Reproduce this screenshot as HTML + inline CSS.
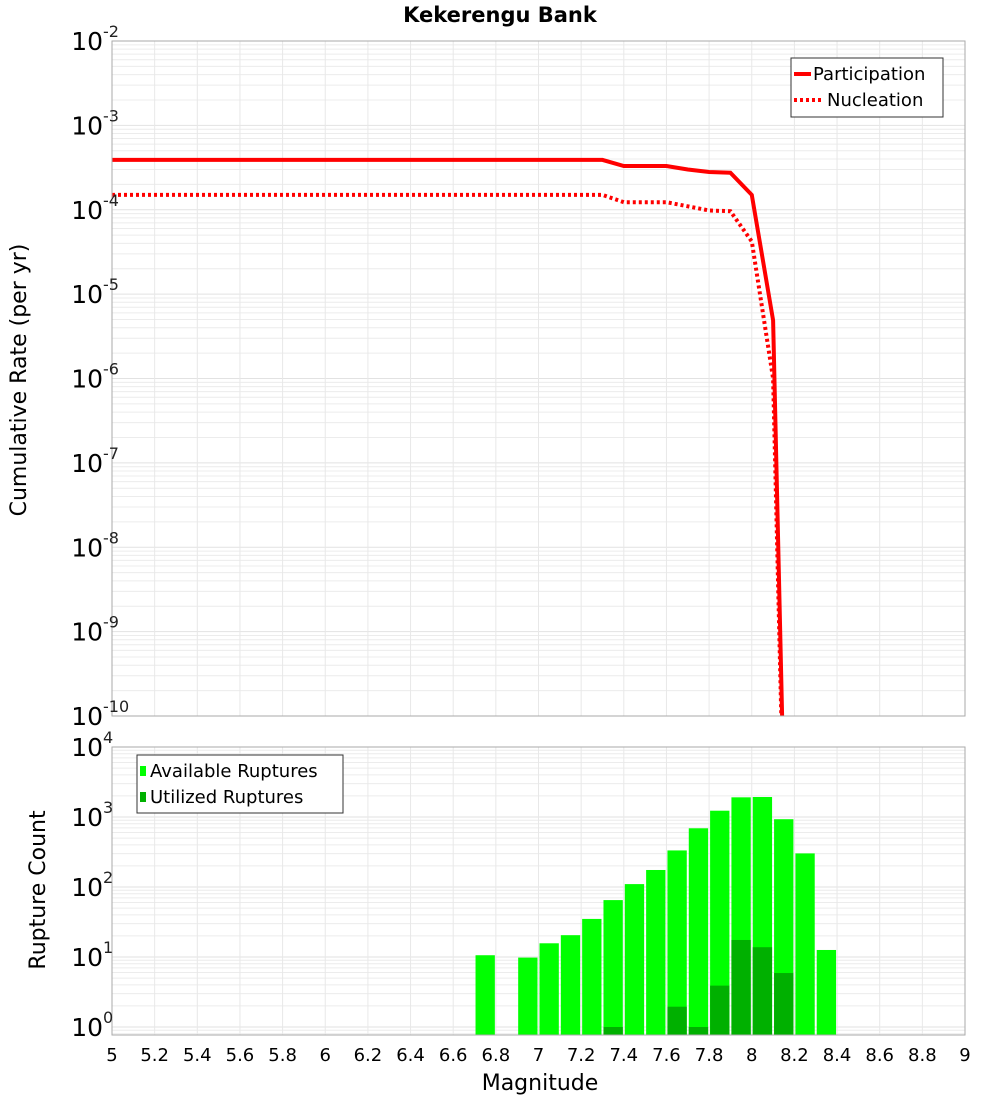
<!DOCTYPE html>
<html><head><meta charset="utf-8"><style>
html,body{margin:0;padding:0;background:#fff;width:1000px;height:1100px;overflow:hidden}
svg{display:block;font-family:"DejaVu Sans","Liberation Sans",sans-serif}
</style></head><body>
<svg id="c" width="1000" height="1100" viewBox="0 0 1000 1100" xmlns="http://www.w3.org/2000/svg">
<text x="500" y="22" text-anchor="middle" font-size="21" font-weight="bold">Kekerengu Bank</text>
<text transform="translate(26,380) rotate(-90)" text-anchor="middle" font-size="22">Cumulative Rate (per yr)</text>
<text transform="translate(45,890) rotate(-90)" text-anchor="middle" font-size="22">Rupture Count</text>
<text x="540" y="1090" text-anchor="middle" font-size="22">Magnitude</text>
<g id="g"></g>
</svg>
<script>
const partMags=[5,7.3,7.4,7.6,7.7,7.8,7.9,8.0,8.1,8.2];
const partVals=[3.9e-4,3.9e-4,3.3e-4,3.3e-4,3.0e-4,2.8e-4,2.75e-4,1.5e-4,4.9e-6,4e-17];
const nuclMags=[5,7.3,7.4,7.6,7.7,7.8,7.9,8.0,8.1,8.2];
const nuclVals=[1.5e-4,1.5e-4,1.23e-4,1.23e-4,1.1e-4,9.8e-5,9.6e-5,4.2e-5,1e-6,4e-17];
const binMags=[6.75,6.95,7.05,7.15,7.25,7.35,7.45,7.55,7.65,7.75,7.85,7.95,8.05,8.15,8.25,8.35];
const availCounts=[10.6,9.8,15.7,20.5,35,65,110,175,333,690,1230,1910,1930,930,302,12.6];
const usedCounts=[0,0,0,0,0,1,0,0,1.95,1,3.9,17.5,13.8,5.9,0,0];
const xTicks=[5,5.2,5.4,5.6,5.8,6,6.2,6.4,6.6,6.8,7,7.2,7.4,7.6,7.8,8,8.2,8.4,8.6,8.8,9];
const topExps=[-2,-3,-4,-5,-6,-7,-8,-9,-10];
const botExps=[4,3,2,1,0];

const NS="http://www.w3.org/2000/svg";
const g=document.getElementById('g');
function el(t,a,p){const e=document.createElementNS(NS,t);for(const k in a)e.setAttribute(k,a[k]);(p||g).appendChild(e);return e;}
const X0=112,X1=965;
const x=m=>X0+(m-5)*(X1-X0)/4;
const T0=41,T1=716;
const yT=v=>T0+(-2-Math.log10(v))*(T1-T0)/8;
const B0=747,B1=1035;
const yB=v=>1027-70*Math.log10(v);

function grid(y0,y1,yf,lo,hi,name){
  const gg=el('g',{});
  
  
  for(let e=lo;e<hi;e++)for(let k=1;k<10;k++){
    const yy=yf(k*Math.pow(10,e));
    if(yy<y0-0.5||yy>y1+0.5)continue;
    el('line',{x1:X0,x2:X1,y1:yy,y2:yy,stroke:k==1?'#e2e2e2':'#ececec','stroke-width':1},gg);
  }
  xTicks.forEach(t=>el('line',{x1:x(t),x2:x(t),y1:y0,y2:y1,stroke:'#e8e8e8','stroke-width':1},gg));
}
grid(T0,T1,yT,-10,-2,'top-grid');
grid(B0,B1,yB,-1,4,'bottom-grid');

const clip=el('clipPath',{id:'cp'});el('rect',{x:X0,y:T0,width:X1-X0,height:T1-T0},clip);
function line(ms,vs,dash,name){
  const p=el('path',{d:ms.map((m,i)=>(i?'L':'M')+x(m).toFixed(1)+','+yT(vs[i]).toFixed(1)).join(''),fill:'none',stroke:'#ff0000','stroke-width':4,'clip-path':'url(#cp)'});
  if(dash)p.setAttribute('stroke-dasharray',dash);
  
  
}
line(nuclMags,nuclVals,'3,3','nucleation-line');
line(partMags,partVals,null,'participation-line');

const bw=(X1-X0)/4*0.1;
binMags.forEach((m,i)=>{
  if(availCounts[i]>0){
    const r=el('rect',{x:x(m)-bw/2+1,y:yB(availCounts[i]),width:bw-2,height:B1-yB(availCounts[i]),fill:'#00ff00'});
    
    
  }
  if(usedCounts[i]>0){
    const r=el('rect',{x:x(m)-bw/2+1,y:yB(usedCounts[i]),width:bw-2,height:B1-yB(usedCounts[i]),fill:'#00b000'});
    
    
  }
});

el('rect',{x:X0,y:T0,width:X1-X0,height:T1-T0,fill:'none',stroke:'#aaa'});
el('rect',{x:X0,y:B0,width:X1-X0,height:B1-B0,fill:'none',stroke:'#aaa'});

function ylab(yy,e){
  const t=el('text',{x:103,y:yy+9,'text-anchor':'end','font-size':25});
  t.textContent='10';
  
  
  const s=el('text',{x:103,y:yy-4,'font-size':16,fill:'#222'});
  s.textContent=String(e);
  
  
}
topExps.forEach(e=>ylab(yT(Math.pow(10,e)),e));
botExps.forEach(e=>ylab(yB(Math.pow(10,e)),e));
xTicks.forEach(t=>{
  const tx=el('text',{x:x(t),y:1061,'text-anchor':'middle','font-size':18});
  tx.textContent=String(t);
  
  
});

function legend(bx,by,w,h,items,name){
  const lg=el('g',{});
  
  
  el('rect',{x:bx,y:by,width:w,height:h,fill:'#fff',stroke:'#333','stroke-width':1},lg);
  items.forEach((it,i)=>{
    const cy=by+16+i*26;
    it.sym(lg,cy);
    const t=el('text',{x:it.tx,y:cy+6,'font-size':18},lg);
    t.textContent=it.label;
  });
}
legend(791,58,152,59,[
  {label:'Participation',tx:813,sym:(p,cy)=>el('line',{x1:794,x2:811,y1:cy,y2:cy,stroke:'#f00','stroke-width':4},p)},
  {label:'Nucleation',tx:827,sym:(p,cy)=>el('line',{x1:794,x2:823,y1:cy,y2:cy,stroke:'#f00','stroke-width':4,'stroke-dasharray':'3,3'},p)}
],'top-legend');
legend(137,755,206,58,[
  {label:'Available Ruptures',tx:150,sym:(p,cy)=>el('rect',{x:140,y:cy-5,width:6,height:10,fill:'#00ff00'},p)},
  {label:'Utilized Ruptures',tx:150,sym:(p,cy)=>el('rect',{x:140,y:cy-5,width:6,height:10,fill:'#00b000'},p)}
],'bottom-legend');
</script>
</body></html>
